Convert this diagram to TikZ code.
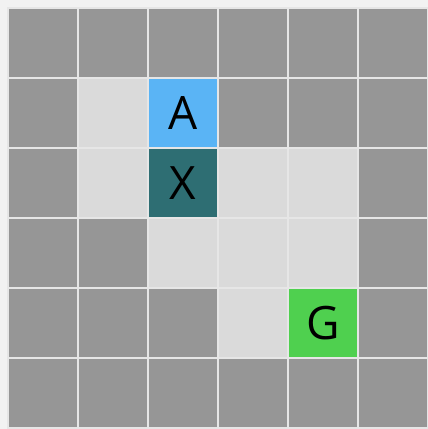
\documentclass[tikz,border=0pt]{standalone}
\usepackage{fontspec}
\setmainfont{Open Sans}
\definecolor{bgc}{HTML}{F2F2F2}
\definecolor{wallc}{HTML}{969696}
\definecolor{freec}{HTML}{DADADA}
\definecolor{startc}{HTML}{5AB4F5}
\definecolor{agentc}{HTML}{2E6E73}
\definecolor{goalc}{HTML}{4FD04F}
\definecolor{linec}{HTML}{E6E6E6}
\tikzset{
  cell/.style={draw=linec, line width=1.6pt, minimum width=70pt, minimum height=70pt, inner sep=0pt, outer sep=0pt, anchor=north west, font=\fontsize{46}{46}\selectfont, text=black},
  wall/.style={cell, fill=wallc},
  free/.style={cell, fill=freec},
  startcell/.style={cell, fill=startc},
  agentcell/.style={cell, fill=agentc},
  goalcell/.style={cell, fill=goalc}
}
\begin{document}
\begin{tikzpicture}[x=1pt,y=1pt]
\fill[bgc] (0,0) rectangle (428,429);
\useasboundingbox (0,0) rectangle (428,429);
% map: row strings, W wall, F free, A start, X agent, G goal
\def\cellat#1#2#3#4{\node[#3] (c#1#2) at ({8+70*#2},{429-8-70*#1}) {#4};}
% row 0
\foreach \c in {0,...,5} {\cellat{0}{\c}{wall}{}}
% row 1
\cellat{1}{0}{wall}{}
\cellat{1}{1}{free}{}
\cellat{1}{2}{startcell}{A}
\cellat{1}{3}{wall}{}
\cellat{1}{4}{wall}{}
\cellat{1}{5}{wall}{}
% row 2
\cellat{2}{0}{wall}{}
\cellat{2}{1}{free}{}
\cellat{2}{2}{agentcell}{X}
\cellat{2}{3}{free}{}
\cellat{2}{4}{free}{}
\cellat{2}{5}{wall}{}
% row 3
\cellat{3}{0}{wall}{}
\cellat{3}{1}{wall}{}
\cellat{3}{2}{free}{}
\cellat{3}{3}{free}{}
\cellat{3}{4}{free}{}
\cellat{3}{5}{wall}{}
% row 4
\cellat{4}{0}{wall}{}
\cellat{4}{1}{wall}{}
\cellat{4}{2}{wall}{}
\cellat{4}{3}{free}{}
\cellat{4}{4}{goalcell}{G}
\cellat{4}{5}{wall}{}
% row 5
\foreach \c in {0,...,5} {\cellat{5}{\c}{wall}{}}
\end{tikzpicture}
\end{document}
